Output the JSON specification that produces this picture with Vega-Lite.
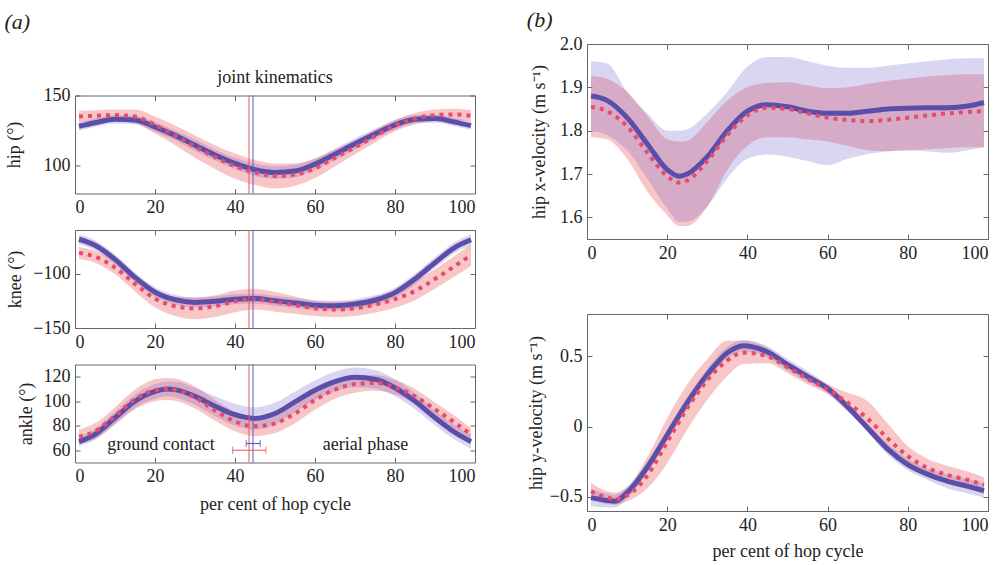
{
"$schema":"https://vega.github.io/schema/vega-lite/v6.json",
"background":"white",
"padding":{"left":4,"top":8,"right":5,"bottom":2},
"config":{"font":"Liberation Serif","view":{"stroke":"#666","strokeWidth":1},
"axis":{"grid":false,"domain":false,"tickColor":"#666","tickSize":-5,"labelPadding":10,"labelFontSize":18,"titleFontSize":18,"titleFontWeight":"normal","labelColor":"#222","titleColor":"#222","labelFont":"Liberation Serif","titleFont":"Liberation Serif","titlePadding":10},
"title":{"font":"Liberation Serif","color":"#222","fontWeight":"normal"}},
"datasets":{
"hip":[
{"x":1,"b":128,"bl":125,"bh":131,"r":135,"rl":131,"rh":139},
{"x":5,"b":130.5,"bl":127.5,"bh":133.5,"r":135.5,"rl":131.5,"rh":139.5},
{"x":10,"b":133,"bl":130,"bh":136,"r":136,"rl":132,"rh":140},
{"x":15,"b":132.5,"bl":129.5,"bh":135.5,"r":135,"rl":130,"rh":140},
{"x":20,"b":127.5,"bl":124,"bh":131,"r":129,"rl":123,"rh":135},
{"x":25,"b":121.5,"bl":118,"bh":125,"r":121.5,"rl":114.5,"rh":128.5},
{"x":30,"b":114.5,"bl":110.5,"bh":118.5,"r":113.5,"rl":105.5,"rh":121.5},
{"x":35,"b":107.5,"bl":103.5,"bh":111.5,"r":106,"rl":97.5,"rh":114.5},
{"x":40,"b":101.5,"bl":97.5,"bh":105.5,"r":99.5,"rl":90.5,"rh":108.5},
{"x":45,"b":97,"bl":92.5,"bh":101.5,"r":95,"rl":86,"rh":104},
{"x":50,"b":95,"bl":90.5,"bh":99.5,"r":92.5,"rl":83.5,"rh":101.5},
{"x":55,"b":96,"bl":91.5,"bh":100.5,"r":93.5,"rl":85.5,"rh":101.5},
{"x":60,"b":101,"bl":97,"bh":105,"r":98,"rl":91,"rh":105},
{"x":65,"b":108,"bl":104,"bh":112,"r":105.5,"rl":99.5,"rh":111.5},
{"x":70,"b":115.5,"bl":111.5,"bh":119.5,"r":113,"rl":108,"rh":118},
{"x":75,"b":122.5,"bl":119,"bh":126,"r":121,"rl":116.5,"rh":125.5},
{"x":80,"b":129,"bl":125.5,"bh":132.5,"r":128.5,"rl":124.5,"rh":132.5},
{"x":85,"b":133,"bl":130,"bh":136,"r":133.5,"rl":129.5,"rh":137.5},
{"x":90,"b":133.5,"bl":130.5,"bh":136.5,"r":136,"rl":132,"rh":140},
{"x":95,"b":131,"bl":128,"bh":134,"r":136.5,"rl":132.5,"rh":140.5},
{"x":99,"b":128.5,"bl":125.5,"bh":131.5,"r":135.5,"rl":131.5,"rh":139.5}],
"knee":[
{"x":1,"b":-68.5,"bl":-73,"bh":-64,"r":-81,"rl":-86.5,"rh":-75.5},
{"x":5,"b":-74,"bl":-78.5,"bh":-69.5,"r":-84.5,"rl":-90,"rh":-79},
{"x":10,"b":-87,"bl":-91.5,"bh":-82.5,"r":-94.5,"rl":-100.5,"rh":-88.5},
{"x":15,"b":-103.5,"bl":-108,"bh":-99,"r":-109.5,"rl":-116.5,"rh":-102.5},
{"x":20,"b":-117,"bl":-121.5,"bh":-112.5,"r":-123,"rl":-131,"rh":-115},
{"x":25,"b":-124,"bl":-128.5,"bh":-119.5,"r":-130,"rl":-139,"rh":-121},
{"x":30,"b":-126.5,"bl":-131,"bh":-122,"r":-132,"rl":-142,"rh":-122},
{"x":35,"b":-125.5,"bl":-130,"bh":-121,"r":-130,"rl":-140,"rh":-120},
{"x":40,"b":-123.5,"bl":-128,"bh":-119,"r":-125.5,"rl":-135.5,"rh":-115.5},
{"x":45,"b":-123,"bl":-127.5,"bh":-118.5,"r":-123.5,"rl":-133,"rh":-114},
{"x":50,"b":-125,"bl":-129.5,"bh":-120.5,"r":-126,"rl":-135,"rh":-117},
{"x":55,"b":-127,"bl":-131.5,"bh":-122.5,"r":-129,"rl":-137,"rh":-121},
{"x":60,"b":-129,"bl":-133.5,"bh":-124.5,"r":-132,"rl":-139,"rh":-125},
{"x":65,"b":-129.5,"bl":-134,"bh":-125,"r":-133,"rl":-140,"rh":-126},
{"x":70,"b":-128,"bl":-132.5,"bh":-123.5,"r":-132,"rl":-139,"rh":-125},
{"x":75,"b":-124.5,"bl":-129,"bh":-120,"r":-128.5,"rl":-136,"rh":-121},
{"x":80,"b":-117.5,"bl":-122,"bh":-113,"r":-123.5,"rl":-131.5,"rh":-115.5},
{"x":85,"b":-105,"bl":-110,"bh":-100,"r":-116,"rl":-124.5,"rh":-107.5},
{"x":90,"b":-90,"bl":-95,"bh":-85,"r":-105,"rl":-114,"rh":-96},
{"x":95,"b":-76,"bl":-81,"bh":-71,"r":-93,"rl":-102.5,"rh":-83.5},
{"x":99,"b":-69,"bl":-74,"bh":-64,"r":-83,"rl":-93,"rh":-73}],
"ankle":[
{"x":1,"b":67,"bl":63,"bh":71,"r":71,"rl":65,"rh":77},
{"x":5,"b":73,"bl":68.5,"bh":77.5,"r":75.5,"rl":69,"rh":82},
{"x":10,"b":86.5,"bl":81.5,"bh":91.5,"r":88,"rl":81,"rh":95},
{"x":15,"b":100,"bl":94.5,"bh":105.5,"r":101.5,"rl":93.5,"rh":109.5},
{"x":20,"b":108,"bl":102,"bh":114,"r":109,"rl":100,"rh":118},
{"x":23,"b":110,"bl":104,"bh":116,"r":110,"rl":101,"rh":119},
{"x":25,"b":109.5,"bl":103,"bh":116,"r":109.5,"rl":100.5,"rh":118.5},
{"x":30,"b":104,"bl":97,"bh":111,"r":103,"rl":94,"rh":112},
{"x":35,"b":96,"bl":88,"bh":104,"r":92.5,"rl":84,"rh":101},
{"x":40,"b":89,"bl":80,"bh":98,"r":83.5,"rl":75.5,"rh":91.5},
{"x":45,"b":86,"bl":77,"bh":95,"r":79.5,"rl":71.5,"rh":87.5},
{"x":50,"b":90,"bl":81,"bh":99,"r":82,"rl":74,"rh":90},
{"x":55,"b":99.5,"bl":91,"bh":108,"r":90,"rl":82,"rh":98},
{"x":60,"b":109,"bl":101,"bh":117,"r":101,"rl":93,"rh":109},
{"x":65,"b":116,"bl":108,"bh":124,"r":109.5,"rl":102,"rh":117},
{"x":70,"b":119.5,"bl":111.5,"bh":127.5,"r":114,"rl":107,"rh":121},
{"x":75,"b":118,"bl":110.5,"bh":125.5,"r":115,"rl":108.5,"rh":121.5},
{"x":80,"b":111,"bl":104,"bh":118,"r":111.5,"rl":105.5,"rh":117.5},
{"x":85,"b":100,"bl":93.5,"bh":106.5,"r":104,"rl":98,"rh":110},
{"x":90,"b":86.5,"bl":80.5,"bh":92.5,"r":93.5,"rl":88,"rh":99},
{"x":95,"b":74.5,"bl":68.5,"bh":80.5,"r":82.5,"rl":77,"rh":88},
{"x":99,"b":67,"bl":61,"bh":73,"r":73,"rl":68,"rh":78}],
"xvel":[
{"x":1,"b":1.88,"bl":1.8,"bh":1.96,"r":1.855,"rl":1.785,"rh":1.927},
{"x":5,"b":1.87,"bl":1.79,"bh":1.955,"r":1.845,"rl":1.78,"rh":1.92},
{"x":10,"b":1.83,"bl":1.755,"bh":1.89,"r":1.81,"rl":1.735,"rh":1.89},
{"x":15,"b":1.77,"bl":1.69,"bh":1.84,"r":1.75,"rl":1.66,"rh":1.835},
{"x":20,"b":1.71,"bl":1.62,"bh":1.8,"r":1.695,"rl":1.605,"rh":1.78},
{"x":23,"b":1.695,"bl":1.59,"bh":1.8,"r":1.68,"rl":1.58,"rh":1.775},
{"x":25,"b":1.7,"bl":1.59,"bh":1.803,"r":1.685,"rl":1.58,"rh":1.777},
{"x":30,"b":1.74,"bl":1.625,"bh":1.84,"r":1.73,"rl":1.625,"rh":1.82},
{"x":35,"b":1.8,"bl":1.69,"bh":1.89,"r":1.79,"rl":1.71,"rh":1.87},
{"x":40,"b":1.845,"bl":1.735,"bh":1.948,"r":1.835,"rl":1.765,"rh":1.9},
{"x":45,"b":1.86,"bl":1.745,"bh":1.97,"r":1.853,"rl":1.785,"rh":1.91},
{"x":50,"b":1.855,"bl":1.74,"bh":1.97,"r":1.85,"rl":1.785,"rh":1.912},
{"x":55,"b":1.845,"bl":1.73,"bh":1.96,"r":1.84,"rl":1.78,"rh":1.905},
{"x":60,"b":1.84,"bl":1.72,"bh":1.95,"r":1.83,"rl":1.775,"rh":1.898},
{"x":65,"b":1.84,"bl":1.735,"bh":1.945,"r":1.825,"rl":1.765,"rh":1.9},
{"x":70,"b":1.845,"bl":1.746,"bh":1.945,"r":1.822,"rl":1.755,"rh":1.908},
{"x":75,"b":1.85,"bl":1.752,"bh":1.95,"r":1.825,"rl":1.753,"rh":1.915},
{"x":80,"b":1.852,"bl":1.754,"bh":1.955,"r":1.83,"rl":1.755,"rh":1.92},
{"x":85,"b":1.853,"bl":1.752,"bh":1.96,"r":1.835,"rl":1.757,"rh":1.925},
{"x":90,"b":1.853,"bl":1.749,"bh":1.965,"r":1.84,"rl":1.76,"rh":1.928},
{"x":95,"b":1.857,"bl":1.755,"bh":1.967,"r":1.843,"rl":1.762,"rh":1.93},
{"x":99,"b":1.865,"bl":1.762,"bh":1.967,"r":1.845,"rl":1.762,"rh":1.93}],
"yvel":[
{"x":1,"b":-0.505,"bl":-0.565,"bh":-0.445,"r":-0.46,"rl":-0.52,"rh":-0.4},
{"x":5,"b":-0.525,"bl":-0.575,"bh":-0.475,"r":-0.505,"rl":-0.55,"rh":-0.46},
{"x":7,"b":-0.53,"bl":-0.575,"bh":-0.485,"r":-0.515,"rl":-0.555,"rh":-0.47},
{"x":10,"b":-0.47,"bl":-0.51,"bh":-0.43,"r":-0.49,"rl":-0.53,"rh":-0.43},
{"x":15,"b":-0.29,"bl":-0.33,"bh":-0.25,"r":-0.35,"rl":-0.44,"rh":-0.22},
{"x":20,"b":-0.06,"bl":-0.1,"bh":-0.02,"r":-0.11,"rl":-0.26,"rh":0.06},
{"x":25,"b":0.17,"bl":0.13,"bh":0.21,"r":0.13,"rl":-0.02,"rh":0.3},
{"x":30,"b":0.37,"bl":0.33,"bh":0.41,"r":0.33,"rl":0.19,"rh":0.48},
{"x":35,"b":0.525,"bl":0.485,"bh":0.565,"r":0.47,"rl":0.36,"rh":0.61},
{"x":39,"b":0.575,"bl":0.535,"bh":0.615,"r":0.525,"rl":0.445,"rh":0.61},
{"x":45,"b":0.53,"bl":0.49,"bh":0.57,"r":0.5,"rl":0.45,"rh":0.56},
{"x":50,"b":0.44,"bl":0.4,"bh":0.48,"r":0.42,"rl":0.38,"rh":0.465},
{"x":55,"b":0.355,"bl":0.315,"bh":0.395,"r":0.34,"rl":0.3,"rh":0.38},
{"x":60,"b":0.27,"bl":0.24,"bh":0.3,"r":0.265,"rl":0.23,"rh":0.3},
{"x":65,"b":0.14,"bl":0.11,"bh":0.17,"r":0.17,"rl":0.11,"rh":0.24},
{"x":70,"b":-0.01,"bl":-0.04,"bh":0.02,"r":0.055,"rl":-0.01,"rh":0.18},
{"x":75,"b":-0.16,"bl":-0.2,"bh":-0.12,"r":-0.085,"rl":-0.15,"rh":0.02},
{"x":80,"b":-0.27,"bl":-0.31,"bh":-0.23,"r":-0.21,"rl":-0.29,"rh":-0.14},
{"x":85,"b":-0.34,"bl":-0.38,"bh":-0.3,"r":-0.295,"rl":-0.35,"rh":-0.23},
{"x":90,"b":-0.39,"bl":-0.44,"bh":-0.34,"r":-0.345,"rl":-0.4,"rh":-0.28},
{"x":95,"b":-0.425,"bl":-0.475,"bh":-0.375,"r":-0.38,"rl":-0.44,"rh":-0.32},
{"x":99,"b":-0.455,"bl":-0.505,"bh":-0.405,"r":-0.415,"rl":-0.48,"rh":-0.36}]
},
"spacing":44,
"hconcat":[
{"title":{"text":"(a)","anchor":"start","fontStyle":"italic","fontSize":22,"offset":10},
"spacing":36.5,
"bounds":"flush",
"vconcat":[
{"width":400,"height":15,"view":{"stroke":null},"data":{"values":[{}]},"mark":{"type":"point","opacity":0},"encoding":{}},
{"width":400,"height":98,
"title":{"text":"joint kinematics","fontSize":18,"fontWeight":"normal","offset":0},
"data":{"name":"hip"},
"resolve":{"axis":{"x":"independent","y":"independent"}},
"layer":[
{"mark":{"type":"area","color":"#f08080","opacity":0.45,"interpolate":"monotone"},
"encoding":{"x":{"field":"x","type":"quantitative","scale":{"domain":[0,100],"nice":false},"axis":{"values":[0,20,40,60,80,100],"title":null}},
"y":{"field":"rl","type":"quantitative","scale":{"domain":[80,150],"nice":false,"zero":false},"axis":{"values":[100,150],"title":"hip (°)","titlePadding":20}},
"y2":{"field":"rh"}}},
{"mark":{"type":"area","color":"#6a5acd","opacity":0.25,"interpolate":"monotone"},
"encoding":{"x":{"field":"x","type":"quantitative","axis":null},"y":{"field":"bl","type":"quantitative","axis":null},"y2":{"field":"bh"}}},
{"mark":{"type":"line","color":"#5b4ea8","strokeWidth":5,"interpolate":"monotone"},
"encoding":{"x":{"field":"x","type":"quantitative","axis":null},"y":{"field":"b","type":"quantitative","axis":null}}},
{"mark":{"type":"line","color":"#e84a6c","strokeWidth":4,"strokeDash":[4,5],"interpolate":"monotone"},
"encoding":{"x":{"field":"x","type":"quantitative","axis":null},"y":{"field":"r","type":"quantitative","axis":null}}},
{"data":{"values":[{"v":43.5,"c":"r"},{"v":44.5,"c":"b"}]},"mark":{"type":"rule","strokeWidth":1},
"encoding":{"x":{"field":"v","type":"quantitative","axis":null},"color":{"field":"c","type":"nominal","scale":{"domain":["b","r"],"range":["#5a5ac8","#e85a5a"]},"legend":null}}},
{"data":{"values":[{}]},"mark":{"type":"point","opacity":0},
"encoding":{"x":{"datum":50,"type":"quantitative","axis":{"orient":"top","labels":false,"title":null,"values":[0,20,40,60,80,100]}},
"y":{"datum":100,"type":"quantitative","axis":{"orient":"right","labels":false,"title":null,"values":[100,150]}}}}
]},
{"width":400,"height":98,
"data":{"name":"knee"},
"resolve":{"axis":{"x":"independent","y":"independent"}},
"layer":[
{"mark":{"type":"area","color":"#f08080","opacity":0.45,"interpolate":"monotone"},
"encoding":{"x":{"field":"x","type":"quantitative","scale":{"domain":[0,100],"nice":false},"axis":{"values":[0,20,40,60,80,100],"title":null}},
"y":{"field":"rl","type":"quantitative","scale":{"domain":[-150,-60],"nice":false,"zero":false},"axis":{"values":[-150,-100],"title":"knee (°)","titlePadding":8}},
"y2":{"field":"rh"}}},
{"mark":{"type":"area","color":"#6a5acd","opacity":0.25,"interpolate":"monotone"},
"encoding":{"x":{"field":"x","type":"quantitative","axis":null},"y":{"field":"bl","type":"quantitative","axis":null},"y2":{"field":"bh"}}},
{"mark":{"type":"line","color":"#5b4ea8","strokeWidth":5,"interpolate":"monotone"},
"encoding":{"x":{"field":"x","type":"quantitative","axis":null},"y":{"field":"b","type":"quantitative","axis":null}}},
{"mark":{"type":"line","color":"#e84a6c","strokeWidth":4,"strokeDash":[4,5],"interpolate":"monotone"},
"encoding":{"x":{"field":"x","type":"quantitative","axis":null},"y":{"field":"r","type":"quantitative","axis":null}}},
{"data":{"values":[{"v":43.5,"c":"r"},{"v":44.5,"c":"b"}]},"mark":{"type":"rule","strokeWidth":1},
"encoding":{"x":{"field":"v","type":"quantitative","axis":null},"color":{"field":"c","type":"nominal","scale":{"domain":["b","r"],"range":["#5a5ac8","#e85a5a"]},"legend":null}}},
{"data":{"values":[{}]},"mark":{"type":"point","opacity":0},
"encoding":{"x":{"datum":50,"type":"quantitative","axis":{"orient":"top","labels":false,"title":null,"values":[0,20,40,60,80,100]}},
"y":{"datum":-100,"type":"quantitative","axis":{"orient":"right","labels":false,"title":null,"values":[-150,-100]}}}}
]},
{"width":400,"height":98,
"data":{"name":"ankle"},
"resolve":{"axis":{"x":"independent","y":"independent"}},
"layer":[
{"mark":{"type":"area","color":"#f08080","opacity":0.45,"interpolate":"monotone"},
"encoding":{"x":{"field":"x","type":"quantitative","scale":{"domain":[0,100],"nice":false},"axis":{"values":[0,20,40,60,80,100],"title":"per cent of hop cycle"}},
"y":{"field":"rl","type":"quantitative","scale":{"domain":[50,130],"nice":false,"zero":false},"axis":{"values":[60,80,100,120],"title":"ankle (°)","titlePadding":8}},
"y2":{"field":"rh"}}},
{"mark":{"type":"area","color":"#6a5acd","opacity":0.25,"interpolate":"monotone"},
"encoding":{"x":{"field":"x","type":"quantitative","axis":null},"y":{"field":"bl","type":"quantitative","axis":null},"y2":{"field":"bh"}}},
{"mark":{"type":"line","color":"#5b4ea8","strokeWidth":5,"interpolate":"monotone"},
"encoding":{"x":{"field":"x","type":"quantitative","axis":null},"y":{"field":"b","type":"quantitative","axis":null}}},
{"mark":{"type":"line","color":"#e84a6c","strokeWidth":4,"strokeDash":[4,5],"interpolate":"monotone"},
"encoding":{"x":{"field":"x","type":"quantitative","axis":null},"y":{"field":"r","type":"quantitative","axis":null}}},
{"data":{"values":[{"v":43.5,"c":"r"},{"v":44.5,"c":"b"}]},"mark":{"type":"rule","strokeWidth":1},
"encoding":{"x":{"field":"v","type":"quantitative","axis":null},"color":{"field":"c","type":"nominal","scale":{"domain":["b","r"],"range":["#5a5ac8","#e85a5a"]},"legend":null}}},
{"data":{"values":[{"x1":42.8,"x2":46.3,"y":65.5,"c":"b"},{"x1":39.4,"x2":47.7,"y":60,"c":"r"}]},"mark":{"type":"rule","strokeWidth":1.2},
"encoding":{"x":{"field":"x1","type":"quantitative","axis":null},"x2":{"field":"x2"},"y":{"field":"y","type":"quantitative","axis":null},"color":{"field":"c","type":"nominal","legend":null}}},
{"data":{"values":[{"x1":42.8,"x2":46.3,"y":65.5,"c":"b"},{"x1":39.4,"x2":47.7,"y":60,"c":"r"}]},"mark":{"type":"tick","orient":"vertical","size":7,"thickness":1.2},
"encoding":{"x":{"field":"x1","type":"quantitative","axis":null},"y":{"field":"y","type":"quantitative","axis":null},"color":{"field":"c","type":"nominal","legend":null}}},
{"data":{"values":[{"x1":42.8,"x2":46.3,"y":65.5,"c":"b"},{"x1":39.4,"x2":47.7,"y":60,"c":"r"}]},"mark":{"type":"tick","orient":"vertical","size":7,"thickness":1.2},
"encoding":{"x":{"field":"x2","type":"quantitative","axis":null},"y":{"field":"y","type":"quantitative","axis":null},"color":{"field":"c","type":"nominal","legend":null}}},
{"data":{"values":[{"x":21.5,"y":64,"t":"ground contact"},{"x":72.6,"y":64,"t":"aerial phase"}]},"mark":{"type":"text","fontSize":18,"baseline":"middle","color":"#222"},
"encoding":{"x":{"field":"x","type":"quantitative","axis":null},"y":{"field":"y","type":"quantitative","axis":null},"text":{"field":"t"}}},
{"data":{"values":[{}]},"mark":{"type":"point","opacity":0},
"encoding":{"x":{"datum":50,"type":"quantitative","axis":{"orient":"top","labels":false,"title":null,"values":[0,20,40,60,80,100]}},
"y":{"datum":100,"type":"quantitative","axis":{"orient":"right","labels":false,"title":null,"values":[60,80,100,120]}}}}
]}
]},
{"title":{"text":"(b)","anchor":"start","fontStyle":"italic","fontSize":22,"offset":3},
"spacing":75,
"bounds":"flush",
"vconcat":[
{"width":401,"height":195,
"data":{"name":"xvel"},
"resolve":{"axis":{"x":"independent","y":"independent"}},
"layer":[
{"mark":{"type":"area","color":"#f08080","opacity":0.45,"interpolate":"monotone"},
"encoding":{"x":{"field":"x","type":"quantitative","scale":{"domain":[0,100],"nice":false},"axis":{"values":[0,20,40,60,80,100],"title":null}},
"y":{"field":"rl","type":"quantitative","scale":{"domain":[1.55,2.0],"nice":false,"zero":false},"axis":{"values":[1.6,1.7,1.8,1.9,2.0],"format":".1f","title":"hip x-velocity (m s⁻¹)","titlePadding":11}},
"y2":{"field":"rh"}}},
{"mark":{"type":"area","color":"#6a5acd","opacity":0.25,"interpolate":"monotone"},
"encoding":{"x":{"field":"x","type":"quantitative","axis":null},"y":{"field":"bl","type":"quantitative","axis":null},"y2":{"field":"bh"}}},
{"mark":{"type":"line","color":"#5b4ea8","strokeWidth":5,"interpolate":"monotone"},
"encoding":{"x":{"field":"x","type":"quantitative","axis":null},"y":{"field":"b","type":"quantitative","axis":null}}},
{"mark":{"type":"line","color":"#e84a6c","strokeWidth":4,"strokeDash":[4,5],"interpolate":"monotone"},
"encoding":{"x":{"field":"x","type":"quantitative","axis":null},"y":{"field":"r","type":"quantitative","axis":null}}},
{"data":{"values":[{}]},"mark":{"type":"point","opacity":0},
"encoding":{"x":{"datum":50,"type":"quantitative","axis":{"orient":"top","labels":false,"title":null,"values":[0,20,40,60,80,100]}},
"y":{"datum":1.8,"type":"quantitative","axis":{"orient":"right","labels":false,"title":null,"values":[1.6,1.7,1.8,1.9,2.0]}}}}
]},
{"width":401,"height":197,
"data":{"name":"yvel"},
"resolve":{"axis":{"x":"independent","y":"independent"}},
"layer":[
{"mark":{"type":"area","color":"#f08080","opacity":0.45,"interpolate":"monotone"},
"encoding":{"x":{"field":"x","type":"quantitative","scale":{"domain":[0,100],"nice":false},"axis":{"values":[0,20,40,60,80,100],"title":"per cent of hop cycle","titlePadding":8}},
"y":{"field":"rl","type":"quantitative","scale":{"domain":[-0.6,0.8],"nice":false,"zero":false},"axis":{"values":[-0.5,0,0.5],"format":"~g","title":"hip y-velocity (m s⁻¹)","titlePadding":4}},
"y2":{"field":"rh"}}},
{"mark":{"type":"area","color":"#6a5acd","opacity":0.25,"interpolate":"monotone"},
"encoding":{"x":{"field":"x","type":"quantitative","axis":null},"y":{"field":"bl","type":"quantitative","axis":null},"y2":{"field":"bh"}}},
{"mark":{"type":"line","color":"#5b4ea8","strokeWidth":5,"interpolate":"monotone"},
"encoding":{"x":{"field":"x","type":"quantitative","axis":null},"y":{"field":"b","type":"quantitative","axis":null}}},
{"mark":{"type":"line","color":"#e84a6c","strokeWidth":4,"strokeDash":[4,5],"interpolate":"monotone"},
"encoding":{"x":{"field":"x","type":"quantitative","axis":null},"y":{"field":"r","type":"quantitative","axis":null}}},
{"data":{"values":[{}]},"mark":{"type":"point","opacity":0},
"encoding":{"x":{"datum":50,"type":"quantitative","axis":{"orient":"top","labels":false,"title":null,"values":[0,20,40,60,80,100]}},
"y":{"datum":0,"type":"quantitative","axis":{"orient":"right","labels":false,"title":null,"values":[-0.5,0,0.5]}}}}
]}
]}
]
}
